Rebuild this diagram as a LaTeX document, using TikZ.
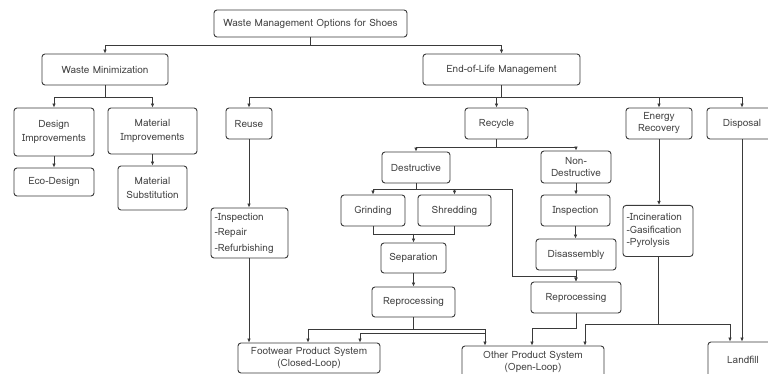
\documentclass[tikz,border=0pt]{standalone}
\usepackage{fontspec}
\setmainfont{Loma}
\usetikzlibrary{arrows.meta,calc}
\definecolor{linec}{HTML}{3A3A3A}
\definecolor{textc}{HTML}{444444}
\begin{document}
\begin{tikzpicture}[x=1pt,y=-1pt,
  box/.style={draw=linec,line width=0.9pt,rounded corners=3pt,fill=white,
    text=textc,font=\fontsize{10}{13.5}\selectfont,align=center,inner sep=1pt},
  conn/.style={draw=linec,line width=0.8pt,-{Latex[length=4pt,width=3.6pt]}},
  plain/.style={draw=linec,line width=0.8pt}]
\useasboundingbox (0,0) rectangle (768,374);
\fill[white] (0,0) rectangle (768,374);
% nodes
\node[box,minimum width=193,minimum height=27] (title) at (310.5,23.5) {Waste Management Options for Shoes};
\node[box,minimum width=126,minimum height=31] (wm) at (105,69.5) {Waste Minimization};
\node[box,minimum width=157,minimum height=31] (eol) at (501.5,69.5) {End-of-Life Management};
\node[box,minimum width=80,minimum height=48] (design) at (54,132) {Design\\Improvements};
\node[box,minimum width=89,minimum height=46] (matimp) at (152.5,131) {Material\\Improvements};
\node[box,minimum width=80,minimum height=28] (eco) at (54,182) {Eco-Design};
\node[box,minimum width=69,minimum height=44] (matsub) at (152.5,188) {Material\\Substitution};
\node[box,minimum width=46,minimum height=31] (reuse) at (249,123.5) {Reuse};
\node[box,minimum width=63,minimum height=31] (recycle) at (496.5,123.5) {Recycle};
\node[box,minimum width=66,minimum height=31,font=\fontsize{10}{12}\selectfont] (energy) at (659,123.5) {Energy\\Recovery};
\node[box,minimum width=70,minimum height=31] (disposal) at (742,123.5) {Disposal};
\node[box,minimum width=68,minimum height=31] (destr) at (416,167.5) {Destructive};
\node[box,minimum width=70,minimum height=32,font=\fontsize{10}{12}\selectfont] (nondes) at (576,167) {Non-\\Destructive};
\node[box,minimum width=64,minimum height=31] (grind) at (373,210.5) {Grinding};
\node[box,minimum width=73,minimum height=31] (shred) at (454.5,210.5) {Shredding};
\node[box,minimum width=65,minimum height=30] (sep) at (413.5,258) {Separation};
\node[box,minimum width=83,minimum height=30] (reproL) at (413.5,302) {Reprocessing};
\node[box,minimum width=77,minimum height=50,text width=70pt,align=left,inner xsep=3.5pt,
  font=\fontsize{10}{15.5}\selectfont] (insp) at (249.5,233) {-Inspection\\-Repair\\-Refurbishing};
\node[box,minimum width=69,minimum height=31] (inspR) at (575.5,210.5) {Inspection};
\node[box,minimum width=80,minimum height=31] (disas) at (576,254.5) {Disassembly};
\node[box,minimum width=90,minimum height=31] (reproR) at (576,297.5) {Reprocessing};
\node[box,minimum width=70,minimum height=51,text width=63pt,align=left,inner xsep=3.5pt,
  font=\fontsize{10}{12.5}\selectfont,anchor=north] (incin) at (658,205) {-Incineration\\-Gasification\\-Pyrolysis\\[5pt]};
\node[box,minimum width=142,minimum height=30,font=\fontsize{10}{12}\selectfont] (footwear) at (309,358) {Footwear Product System\\(Closed-Loop)};
\node[box,minimum width=142,minimum height=32,font=\fontsize{10}{12}\selectfont] (other) at (533,362) {Other Product System\\(Open-Loop)};
\node[box,minimum width=70,minimum height=36] (landfill) at (743,360) {Landfill};
% connectors
\draw[conn] (title.south) -- ++(0,8) -| (wm.north);
\draw[conn] (title.south) -- ++(0,8) -| (eol.north);
\draw[conn] (wm.south) -- ++(0,12) -| (design.north);
\draw[conn] (wm.south) -- ++(0,12) -| (matimp.north);
\draw[conn] (design.south) -- (eco.north);
\draw[conn] (matimp.south) -- (matsub.north);
\draw[conn] (eol.south) -- ++(0,12) -| (reuse.north);
\draw[conn] (eol.south) -- ++(0,12) -| (recycle.north);
\draw[conn] (eol.south) -- ++(0,12) -| (energy.north);
\draw[conn] (eol.south) -- ++(0,12) -| (disposal.north);
\draw[conn] (recycle.south) -- ++(0,7.5) -| (destr.north);
\draw[conn] (recycle.south) -- ++(0,7.5) -| (nondes.north);
\draw[conn] (destr.south) -- ++(0,6) -| (grind.north);
\draw[conn] (destr.south) -- ++(0,6) -| (shred.north);
\coordinate (dk) at (512,276);
\draw[conn] (destr.south) -- ++(0,6) -| (dk) -| (reproR.north);
\draw[plain] (grind.south) -- ++(0,8) -| (shred.south);
\draw[conn] ([yshift=9pt]sep.north) -- (sep.north);
\draw[conn] (sep.south) -- (reproL.north);
\draw[conn] (nondes.south) -- (nondes.south |- inspR.north);
\draw[conn] (inspR.south) -- (inspR.south |- disas.north);
\draw[conn] (disas.south) -- (reproR.north);
\draw[conn] (reuse.south) -- (reuse.south |- insp.north);
\draw[conn] (reuse.south |- insp.south) -- (reuse.south |- footwear.north);
\draw[conn] (energy.south) -- (energy.south |- incin.north);
\draw[conn] (disposal.south) -- (disposal.south |- landfill.north);
\draw[conn] (incin.south) -- ++(0,67) -| ([xshift=52pt]other.north);
\draw[conn] (incin.south) -- ++(0,67) -| ([xshift=-13pt]landfill.north);
\draw[conn] (reproL.south) -- ++(0,12) -| ([xshift=-1pt]footwear.north);
\draw[conn] (reproL.south) -- ++(0,12) -| ([xshift=-48pt]other.north);
\coordinate (jb) at (485,333.5);
\draw[conn] (jb) -| ([xshift=51pt]footwear.north);
\draw[conn] (reproR.south) -- ++(0,15) -| ([xshift=-1pt]other.north);
\end{tikzpicture}
\end{document}
